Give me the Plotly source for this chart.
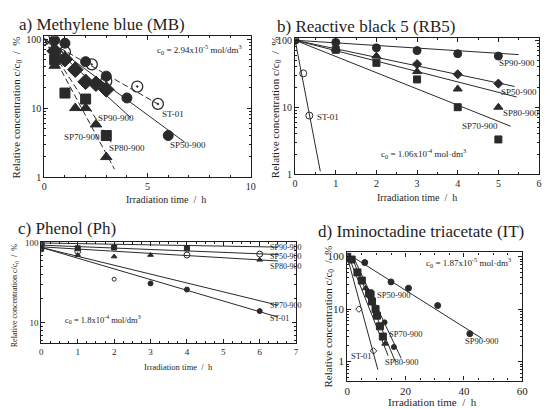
import plotly.graph_objects as go

W, H = 547, 409
FONT = "Liberation Serif, Times New Roman, DejaVu Serif, serif"
INK = "#1e1e1e"

# ---------------- data ----------------
# a) Methylene blue
a_st01_x = [0, 1, 2.3, 3, 4.5, 5.5]
a_st01_y = [100, 65, 43, 24.5, 20.5, 11.5]
a_sp50_x = [0.5, 1, 2, 3, 4, 6]
a_sp50_y = [96, 87, 47, 29, 14, 4.0]
a_sp90_x = [0.5, 1, 1.5, 2, 2.5, 3]
a_sp90_y = [67, 51, 36, 24, 22.5, 18.6]
a_sp80_x = [0.5, 1, 2, 3]
a_sp80_y = [50, 16.5, 13.5, 4.0]
a_sp70_x = [0.5, 1.5, 2, 2.5, 3]
a_sp70_y = [41, 10, 10, 5.8, 1.95]
a_fits = {"ST-01": ([0, 5.6], [100, 11]), "SP50-900": ([0, 6.8], [100, 3.2]),
          "SP90-900": ([0, 4.2], [100, 7.2]), "SP80-900": ([0, 3.3], [100, 3.0]),
          "SP70-900": ([0, 3.4], [100, 1.3])}

# b) Reactive black 5
b_sp90_x = [0, 1, 2, 3, 4, 5]
b_sp90_y = [100, 93, 77, 70, 63, 58]
b_sp50_x = [3, 4, 5]
b_sp50_y = [44, 31, 22.5]
b_sp80_x = [1, 2, 3, 4, 5]
b_sp80_y = [74, 58, 34, 18.7, 10]
b_sp70_x = [1, 2, 3, 4, 5]
b_sp70_y = [72, 46, 26, 10, 3.3]
b_st01_x = [0.2, 0.35]
b_st01_y = [32, 7.5]
b_fits = {"SP90-900": ([0, 5.5], [100, 61]), "SP50-900": ([0, 5.4], [100, 20.4]),
          "SP80-900": ([0, 5.45], [100, 14.2]), "SP70-900": ([0, 5.3], [100, 5.2]),
          "ST-01": ([0, 0.62], [100, 1.1])}

# c) Phenol
c_sp90_x = [0, 1, 2, 4]
c_sp90_y = [100, 85, 87, 85]
c_sp50_x = [0, 1, 4, 6]
c_sp50_y = [93, 78, 70, 72]
c_sp80_x = [0, 1, 2, 3, 6]
c_sp80_y = [88, 70, 67, 70, 61]
c_sp70_x = [0, 2]
c_sp70_y = [85, 35]
c_st01_x = [0, 3, 4, 6]
c_st01_y = [82, 31, 26, 14]
c_fits = {"SP90-900": ([0, 6.5], [99, 88]), "SP50-900": ([0, 6.5], [93, 71]),
          "SP80-900": ([0, 6.5], [88.5, 59]), "SP70-900": ([0, 6.5], [87, 16.6]),
          "ST-01": ([0, 6.5], [87, 11.8])}

# d) Iminoctadine triacetate
d_sp90_x = [6, 15, 21, 31, 42]
d_sp90_y = [77, 33, 25, 11.7, 3.4]
d_st01_x = [0, 4, 9]
d_st01_y = [100, 10, 1.6]
d_sp80_x = [0, 1.5, 3.5, 5, 7.5, 8, 8.5, 9.7, 10.2, 11.2, 12.2]
d_sp80_y = [100, 88, 50, 35, 20, 19, 14, 10, 7.5, 4.7, 3.0]
d_sp50_x = [1, 6.3, 8.5, 13]
d_sp50_y = [90, 25, 16, 2.2]
d_sp70_x = [12.8, 16]
d_sp70_y = [5.6, 1.9]
d_fits = {"SP90-900": ([1.7, 46], [100, 2.8]), "ST-01": ([0, 10.5], [100, 0.7]),
          "SP80-900": ([1.5, 16.5], [100, 1.0]), "SP50-900": ([0.5, 14], [100, 1.3]),
          "SP70-900": ([2, 18.5], [100, 1.15])}

# ---------------- helpers ----------------
def fx(px):
    return px / W

def fy(py):
    return 1 - py / H

fig = go.Figure()

def pts(xs, ys, ax, symbol, size, color="#2a2a2a", lw=1):
    fig.add_trace(go.Scatter(x=xs, y=ys, mode="markers", xaxis="x" + ax, yaxis="y" + ax,
                             marker=dict(symbol=symbol, size=size, color=color,
                                         line=dict(color="#2a2a2a", width=lw)),
                             showlegend=False, hoverinfo="skip"))

def fit(line, ax, dash="solid", w=1):
    xs, ys = line
    fig.add_trace(go.Scatter(x=xs, y=ys, mode="lines", xaxis="x" + ax, yaxis="y" + ax,
                             line=dict(color="#2a2a2a", width=w, dash=dash),
                             showlegend=False, hoverinfo="skip"))

# panel a
fit(a_fits["ST-01"], "", "6px,3px")
fit(a_fits["SP50-900"], "")
fit(a_fits["SP90-900"], "")
fit(a_fits["SP80-900"], "", "6px,3px")
fit(a_fits["SP70-900"], "", "6px,3px")
pts(a_st01_x, a_st01_y, "", "circle-open-dot", 11, lw=1.3)
pts(a_sp50_x, a_sp50_y, "", "circle", 10)
pts(a_sp90_x, a_sp90_y, "", "diamond", 12)
pts(a_sp80_x, a_sp80_y, "", "square", 10)
pts(a_sp70_x, a_sp70_y, "", "triangle-up", 10)

# panel b
for k in b_fits:
    fit(b_fits[k], "2")
pts(b_sp90_x, b_sp90_y, "2", "circle", 8)
pts(b_sp50_x, b_sp50_y, "2", "diamond", 7)
pts(b_sp80_x, b_sp80_y, "2", "triangle-up", 8)
pts(b_sp70_x, b_sp70_y, "2", "square", 7)
pts(b_st01_x, b_st01_y, "2", "circle-open", 7)

# panel c
for k in c_fits:
    fit(c_fits[k], "3")
pts(c_sp90_x, c_sp90_y, "3", "square", 5)
pts(c_sp50_x, c_sp50_y, "3", "circle-open", 6)
pts(c_sp80_x, c_sp80_y, "3", "triangle-up", 5)
pts(c_sp70_x, c_sp70_y, "3", "circle-open", 4)
pts(c_st01_x, c_st01_y, "3", "circle", 5)

# panel d
fit(d_fits["SP90-900"], "4")
fit(d_fits["ST-01"], "4")
fit(d_fits["SP80-900"], "4")
fit(d_fits["SP50-900"], "4")
fit(d_fits["SP70-900"], "4")
pts(d_sp90_x, d_sp90_y, "4", "circle", 6)
pts(d_st01_x, d_st01_y, "4", "diamond-open", 5)
pts(d_sp80_x, d_sp80_y, "4", "square", 7)
pts(d_sp50_x, d_sp50_y, "4", "triangle-up", 6)
pts(d_sp70_x, d_sp70_y, "4", "circle", 5)

# ---------------- axes ----------------
def minor_log(lo, hi):
    vals = []
    for dec in [0.1, 1, 10, 100]:
        for m in range(2, 10):
            v = m * dec
            if lo <= v <= hi:
                vals.append(v)
    return vals

def xax(dom, anchor, rng, tickvals, minor_dtick, fs=10):
    return dict(domain=dom, anchor=anchor, range=rng, tickvals=tickvals,
                ticks="inside", ticklen=4, tickcolor=INK, showline=True, linecolor=INK,
                linewidth=1.2, mirror="allticks", showgrid=False, zeroline=False,
                tickfont=dict(family=FONT, size=fs, color=INK),
                minor=dict(dtick=minor_dtick, ticks="inside", ticklen=2, tickcolor=INK,
                           showgrid=False))

def yax(dom, anchor, rng, tickvals, fs=10):
    lo, hi = 10 ** rng[0], 10 ** rng[1]
    return dict(domain=dom, anchor=anchor, type="log", range=rng, tickvals=tickvals,
                ticktext=[str(int(v)) for v in tickvals],
                ticks="inside", ticklen=4, tickcolor=INK, showline=True, linecolor=INK,
                linewidth=1.2, mirror="allticks", showgrid=False, zeroline=False,
                tickfont=dict(family=FONT, size=fs, color=INK),
                minor=dict(tickvals=minor_log(lo, hi), ticks="inside", ticklen=2,
                           tickcolor=INK, showgrid=False))

fig.update_layout(
    width=W, height=H, margin=dict(l=0, r=0, t=0, b=0),
    paper_bgcolor="white", plot_bgcolor="white",
    font=dict(family=FONT, color=INK, size=10),
    xaxis=xax([fx(42), fx(252)], "y", [0, 10], [0, 5, 10], 1),
    yaxis=yax([fy(177), fy(33)], "x", [0, 2.04], [1, 10, 100]),
    xaxis2=xax([fx(297), fx(545)], "y2", [0, 6], [0, 1, 2, 3, 4, 5, 6], 0.5),
    yaxis2=yax([fy(174), fy(35)], "x2", [0, 2.03], [1, 10, 100]),
    xaxis3=xax([fx(39), fx(298)], "y3", [0, 7], [0, 1, 2, 3, 4, 5, 6, 7], 0.25, fs=9),
    yaxis3=yax([fy(347), fy(243)], "x3", [0.744, 2.012], [10, 100], fs=9),
    xaxis4=xax([fx(350), fx(528)], "y4", [0, 60], [0, 20, 40, 60], 5, fs=11),
    yaxis4=yax([fy(385), fy(254)], "x4", [-0.36, 2.08], [1, 10, 100], fs=11),
)

ann = []

def text(px, py, s, size=9, anchor="center", angle=0, va="middle"):
    ann.append(dict(x=fx(px), y=fy(py), xref="paper", yref="paper", text=s, showarrow=False,
                    xanchor=anchor, yanchor=va, textangle=angle,
                    font=dict(family=FONT, size=size, color=INK)))

ytitle = "Relative concentration c/c<sub>0</sub>  /  %"
xtitle = "Irradiation time  /  h"

# titles
text(14, 21, "a) Methylene blue (MB)", 17, "left")
text(277, 23, "b) Reactive black 5 (RB5)", 17, "left")
text(13, 230, "c) Phenol (Ph)", 17, "left")
text(318, 233, "d) Iminoctadine triacetate (IT)", 17, "left")

# axis titles
text(14, 106, ytitle, 11, angle=-90)
text(166, 200, xtitle, 10)
text(277, 105, ytitle, 11, angle=-90)
text(421, 198, xtitle, 10)
text(13, 298, ytitle, 8, angle=-90)
text(178, 371, xtitle, 8.5)
text(331, 320, ytitle, 11, angle=-90)
text(437, 407, xtitle, 11)

# concentrations
text(200, 47, "c<sub>0</sub> = 2.94x10<sup>-5</sup> mol/dm<sup>3</sup>", 9)
text(428, 153, "c<sub>0</sub> = 1.06x10<sup>-4</sup> mol·dm<sup>3</sup>", 9)
text(102, 323, "c<sub>0</sub> = 1.8x10<sup>-4</sup> mol/dm<sup>3</sup>", 8.5)
text(473, 264, "c<sub>0</sub> = 1.87x10<sup>-5</sup> mol·dm<sup>3</sup>", 9)

# series labels a
text(173, 112, "ST-01", 9)
text(115, 117, "SP90-900", 9)
text(188, 144, "SP50-900", 9)
text(80, 136, "SP70-900", 9)
text(126, 147, "SP80-900", 9)
# b
text(523, 60, "SP90-900", 9)
text(525, 90, "SP50-900", 9)
text(527, 111, "SP80-900", 9)
text(485, 125, "SP70-900", 9)
text(330, 116, "ST-01", 9)
# c
for py, s in [(249, "SP90-900"), (258, "SP50-900"), (268, "SP80-900"), (308, "SP70-900"), (322, "ST-01")]:
    text(269, py, s, 8, "left")
# d
text(398, 298, "SP50-900", 8.5)
text(410, 337, "SP70-900", 8.5)
text(487, 345, "SP90-900", 8.5)
text(364, 360, "ST-01", 8.5)
text(406, 366, "SP80-900", 8.5)

fig.update_layout(annotations=ann)
fig.write_html("out.html")
